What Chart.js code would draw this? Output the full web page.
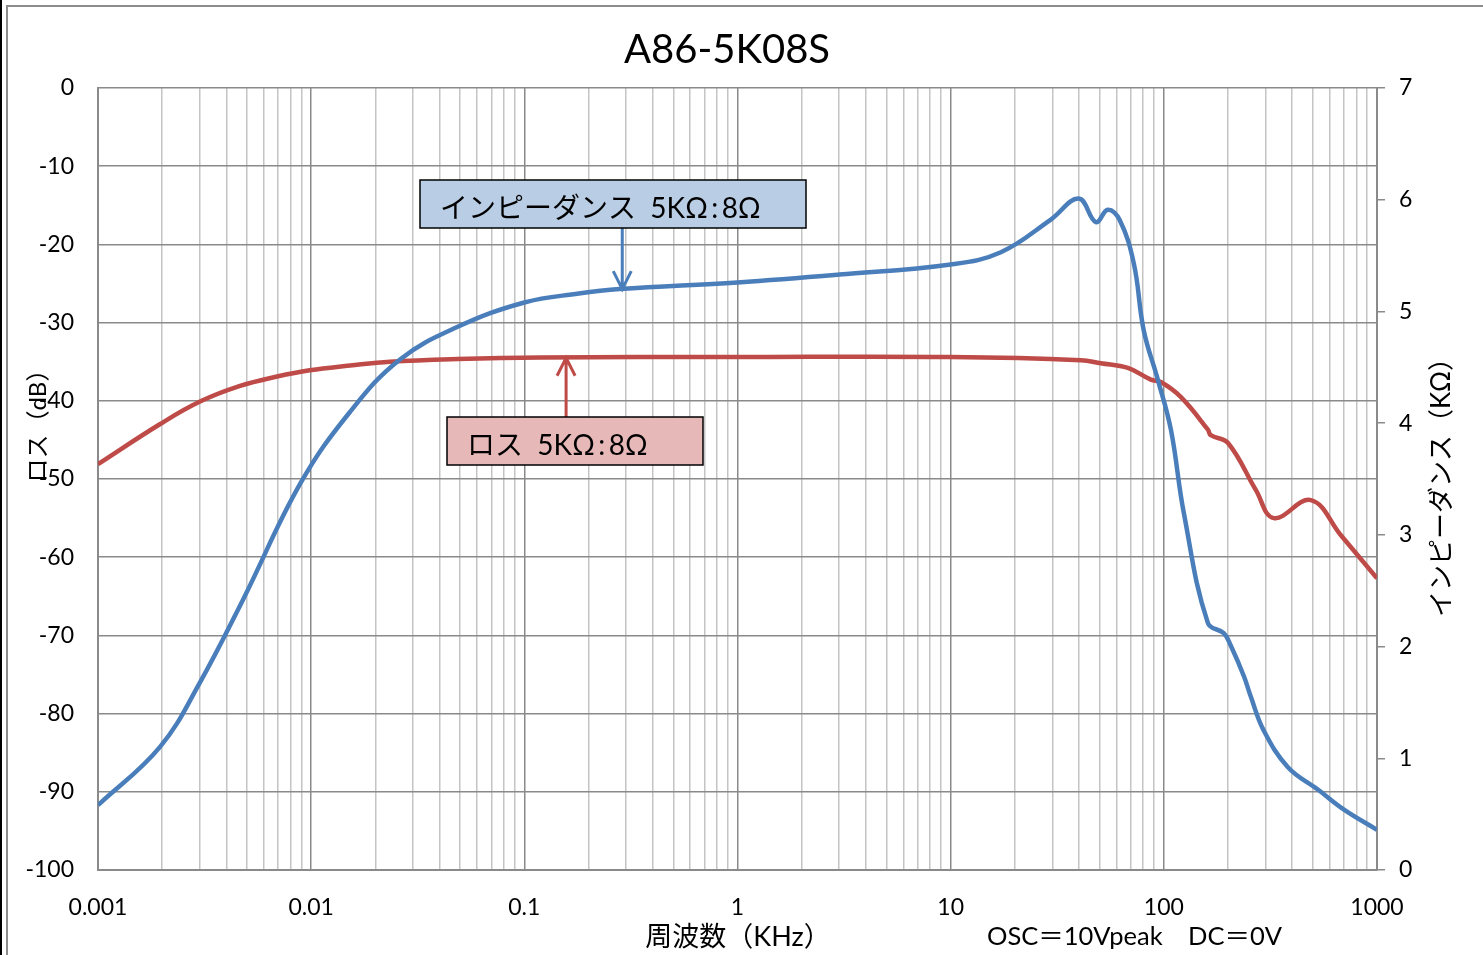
<!DOCTYPE html>
<html>
<head>
<meta charset="utf-8">
<script src="https://cdn.jsdelivr.net/npm/chart.js@4.4.0/dist/chart.umd.min.js"></script>
<style>
  html, body { margin: 0; padding: 0; background: #fff; }
  #wrap { position: relative; width: 1483px; height: 955px; }
</style>
</head>
<body>
<div id="wrap"><canvas id="chart" width="1483" height="955"></canvas></div>
<script>
// Impedance curve (right axis, KΩ)
const impFreq = [0.001, 0.00195, 0.00301, 0.00479, 0.0089, 0.0152, 0.0261, 0.0484, 0.1, 0.18, 0.28, 1, 3, 10, 17.2, 29.4, 39.9, 48, 54.6, 62, 72.3, 80.5, 93.7, 108, 124, 161, 191, 206, 238, 256, 294, 382, 528, 700, 1000];
const impValues = [0.58, 1.10, 1.68, 2.42, 3.46, 4.10, 4.57, 4.86, 5.08, 5.16, 5.20, 5.26, 5.33, 5.42, 5.53, 5.82, 6.01, 5.80, 5.91, 5.82, 5.43, 4.83, 4.39, 3.94, 3.20, 2.21, 2.12, 2.01, 1.73, 1.55, 1.25, 0.92, 0.72, 0.54, 0.36];

// Loss curve (left axis, dB)
const lossFreq = [0.001, 0.00195, 0.00301, 0.00464, 0.00692, 0.00984, 0.0152, 0.0234, 0.0485, 0.119, 1, 10, 40.8, 50.6, 67.8, 86.9, 96.8, 120, 161, 166, 200, 270, 328, 490, 677, 1000];
const lossValues = [-48.1, -43.0, -40.1, -38.1, -36.9, -36.1, -35.5, -35.0, -34.65, -34.45, -34.4, -34.4, -34.8, -35.2, -35.8, -37.3, -37.6, -39.5, -43.7, -44.4, -45.4, -51.4, -55.0, -52.7, -57.2, -62.7];

const decadeLabels = ['0.001', '0.01', '0.1', '1', '10', '100', '1000'];
const leftTicks = [0, -10, -20, -30, -40, -50, -60, -70, -80, -90, -100];
const rightTicks = [0, 1, 2, 3, 4, 5, 6, 7];

const FONT = "Lato, 'Noto Sans CJK JP', sans-serif";
const BLUE = '#4a7ebb';
const RED = '#be4b48';

function isDecade(v) {
    const l = Math.log10(v);
    return Math.abs(l - Math.round(l)) < 1e-6;
}

// log grid ticks: 1..9 per decade
const xTickValues = [];
for (let e = -3; e <= 2; e++) {
    for (let m = 1; m <= 9; m++) xTickValues.push(+(m * Math.pow(10, e)).toPrecision(3));
}
xTickValues.push(1000);

function text(ctx, str, x, y, size, align, rot) {
    ctx.save();
    ctx.translate(x, y);
    if (rot) ctx.rotate(rot);
    ctx.fillStyle = '#000';
    ctx.font = size + "px " + FONT;
    ctx.textBaseline = 'middle';
    ctx.textAlign = align;
    ctx.fillText(str, 0, 0);
    ctx.restore();
}

const annotations = {
    id: 'annotations',
    afterDatasetsDraw(chart) {
        const { ctx, scales } = chart;
        const xs = scales.x, yl = scales.yLoss, yr = scales.yImp;

        function arrow(x, y0, y1, color) {
            ctx.save();
            ctx.strokeStyle = color;
            ctx.lineWidth = 3;
            ctx.beginPath();
            ctx.moveTo(x, y0);
            ctx.lineTo(x, y1);
            const d = y1 > y0 ? -1 : 1;
            ctx.moveTo(x - 9, y1 + d * 18);
            ctx.lineTo(x, y1);
            ctx.lineTo(x + 9, y1 + d * 18);
            ctx.stroke();
            ctx.restore();
        }

        function box(x0, y0, x1, y1, fill, str, tx) {
            ctx.save();
            ctx.fillStyle = fill;
            ctx.fillRect(x0, y0, x1 - x0, y1 - y0);
            ctx.strokeStyle = '#000';
            ctx.lineWidth = 1.5;
            ctx.strokeRect(x0, y0, x1 - x0, y1 - y0);
            ctx.restore();
            text(ctx, str, tx, (y0 + y1) / 2 + 5, 28, 'left');
        }

        // impedance label
        const bx = xs.getPixelForValue(0.288);
        arrow(bx, 228, yr.getPixelForValue(5.2), BLUE);
        box(420, 180, 806, 228, '#b9cde5', 'インピーダンス  5KΩ\u2009:\u20098Ω', 440);

        // loss label
        const rx = xs.getPixelForValue(0.157);
        arrow(rx, 417, yl.getPixelForValue(-34.5), RED);
        box(447, 417, 703, 465, '#e6b9b8', 'ロス  5KΩ\u2009:\u20098Ω', 467);

        // titles
        text(ctx, 'A86-5K08S', 727, 50, 40, 'center');
        text(ctx, 'ロス（dB）', 38, 420, 24, 'center', -Math.PI / 2);
        text(ctx, 'インピーダンス（KΩ）', 1442, 481, 26, 'center', -Math.PI / 2);
        text(ctx, '周波数（KHz）', 738, 937, 27, 'center');
        text(ctx, 'OSC＝10Vpeak　DC＝0V', 987, 937, 25.5, 'left');
    }
};

const frame = {
    id: 'frame',
    beforeDraw(chart) {
        const ctx = chart.ctx;
        ctx.save();
        ctx.fillStyle = '#fff';
        ctx.fillRect(0, 0, chart.width, chart.height);
        ctx.strokeStyle = '#8c8c8c';
        ctx.lineWidth = 2;
        ctx.strokeRect(7, 6, chart.width + 20, chart.height + 20);
        ctx.fillStyle = '#000';
        ctx.fillRect(0, 0, 2, chart.height);
        ctx.restore();
    }
};

new Chart(document.getElementById('chart'), {
    type: 'line',
    data: {
        datasets: [
            {
                label: 'インピーダンス',
                data: impFreq.map((f, i) => ({ x: f, y: impValues[i] })),
                yAxisID: 'yImp',
                borderColor: BLUE,
                borderWidth: 4.5,
                pointRadius: 0,
                tension: 0.4,
                fill: false
            },
            {
                label: 'ロス',
                data: lossFreq.map((f, i) => ({ x: f, y: lossValues[i] })),
                yAxisID: 'yLoss',
                borderColor: RED,
                borderWidth: 4.5,
                pointRadius: 0,
                tension: 0.4,
                fill: false
            }
        ]
    },
    options: {
        responsive: false,
        animation: false,
        layout: { padding: { top: 88, bottom: 0, left: 0, right: 0 } },
        plugins: {
            legend: { display: false },
            tooltip: { enabled: false },
            title: { display: false }
        },
        scales: {
            x: {
                type: 'logarithmic',
                min: 0.001,
                max: 1000,
                afterBuildTicks(scale) {
                    scale.ticks = xTickValues.map(v => ({ value: v }));
                },
                afterFit(scale) { scale.height = 85; },
                grid: {
                    color: ctx => isDecade(ctx.tick.value) ? '#8a8a8a' : '#c4c4c4',
                    lineWidth: 1.5,
                    drawTicks: false
                },
                border: { color: '#8a8a8a', width: 2 },
                ticks: {
                    autoSkip: false,
                    maxRotation: 0,
                    padding: 24,
                    color: '#000',
                    font: { family: FONT, size: 23 },
                    callback: (v) => isDecade(v) ? decadeLabels[Math.round(Math.log10(v)) + 3] : ''
                }
            },
            yLoss: {
                position: 'left',
                min: -100,
                max: 0,
                afterBuildTicks(scale) {
                    scale.ticks = leftTicks.map(v => ({ value: v }));
                },
                afterFit(scale) { scale.width = 98; },
                grid: { color: '#8a8a8a', lineWidth: 1.5, drawTicks: false },
                border: { color: '#8a8a8a', width: 2 },
                ticks: {
                    padding: 24,
                    color: '#000',
                    font: { family: FONT, size: 23 }
                }
            },
            yImp: {
                position: 'right',
                min: 0,
                max: 7,
                afterBuildTicks(scale) {
                    scale.ticks = rightTicks.map(v => ({ value: v }));
                },
                afterFit(scale) { scale.width = 106; },
                grid: { drawOnChartArea: false, drawTicks: true, tickLength: 8, color: '#8a8a8a', lineWidth: 1.5 },
                border: { color: '#8a8a8a', width: 2 },
                ticks: {
                    padding: 14,
                    color: '#000',
                    font: { family: FONT, size: 23 }
                }
            }
        }
    },
    plugins: [frame, annotations]
});
</script>
</body>
</html>
